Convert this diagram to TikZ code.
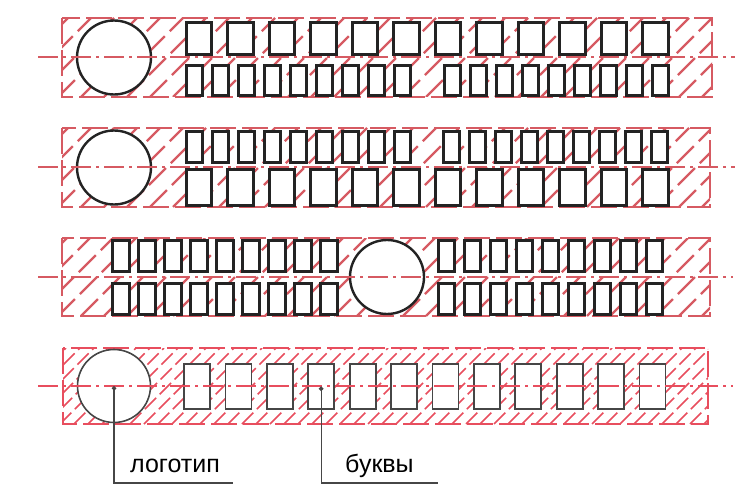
\documentclass[tikz,border=0pt]{standalone}
\usepackage{fontspec}
\setmainfont{Liberation Sans}
\usetikzlibrary{positioning, arrows.meta}
\definecolor{rojo}{RGB}{214,90,98}
\definecolor{rojovivo}{RGB}{232,78,94}
\definecolor{tinta}{RGB}{35,35,35}
\definecolor{gris}{RGB}{70,70,70}

\begin{document}
\begin{tikzpicture}[x=1pt, y=-1pt,
    borde/.style={draw=rojo, line width=2.4pt, dash pattern=on 26pt off 6pt},
    eje/.style={draw=rojo, line width=2.4pt, dash pattern=on 20pt off 5pt on 3pt off 5pt},
    rayado/.style={draw=rojo, line width=2.2pt, dash pattern=on 24pt off 7pt},
    logo/.style={circle, draw=tinta, fill=white, solid, line width=2.4pt, inner sep=0pt, minimum size=74pt},
    letra/.style={rectangle, draw=tinta, fill=white, solid, line width=2.8pt, line join=miter, inner sep=0pt},
    ancha/.style={letra, minimum width=25.5pt, minimum height=32.5pt},
    estrecha/.style={letra, minimum width=16.5pt, minimum height=30.5pt},
    guia/.style={draw=gris, line width=1.2pt, {Circle[length=4.5pt]}-},
    rotulo/.style={inner sep=0pt, anchor=base west, font=\fontsize{25}{30}\selectfont}]
  \useasboundingbox (0,0) rectangle (748,495);

  % franja 1
  \begin{scope}
    \clip (62,18) rectangle (712,97);
    \foreach \x in {-80,-57,...,712} \draw[rayado] (\x,97) -- ++(79,-79);
  \end{scope}
  \draw[borde] (62,18) rectangle (712,97);
  \node [logo] (l1) at (114,57.5) {};
  \foreach \i in {0,...,11} \node [ancha] (u1-\i) at ({199+41.5*\i},38.5) {};
  \foreach \i in {0,...,8} {
    \node [estrecha] (d1-\i) at ({194.5+26*\i},80.5) {};
    \node [estrecha] (e1-\i) at ({452.5+26*\i},80.5) {};
  }
  \draw[eje] (38,57) -- (735,57);

  % franja 2
  \begin{scope}
    \clip (62,128) rectangle (710,207);
    \foreach \x in {-80,-57,...,712} \draw[rayado] (\x,207) -- ++(79,-79);
  \end{scope}
  \draw[borde] (62,128) rectangle (710,207);
  \node [logo] (l2) at (114,167.5) {};
  \foreach \i in {0,...,8} {
    \node [estrecha] (u2-\i) at ({194.5+26*\i},147) {};
    \node [estrecha] (v2-\i) at ({451.5+26*\i},147) {};
  }
  \foreach \i in {0,...,11} \node [ancha, minimum height=36pt] (d2-\i) at ({199+41.5*\i},187.5) {};
  \draw[eje] (38,167) -- (735,167);

  % franja 3
  \begin{scope}
    \clip (62,238) rectangle (710,316);
    \foreach \x in {-80,-57,...,712} \draw[rayado] (\x,316) -- ++(78,-78);
  \end{scope}
  \draw[borde] (62,238) rectangle (710,316);
  \node [logo] (l3) at (387,277) {};
  \foreach \i in {0,...,8} {
    \node [estrecha, minimum width=17.5pt] (u3-\i) at ({121+26*\i},256) {};
    \node [estrecha, minimum width=17.5pt] (d3-\i) at ({121+26*\i},299) {};
    \node [estrecha] (v3-\i) at ({446.5+26*\i},256) {};
    \node [estrecha] (e3-\i) at ({446.5+26*\i},299) {};
  }
  \draw[eje] (38,277) -- (733,277);

  % franja 4
  \begin{scope}
    \clip (63,348) rectangle (708,424);
    \foreach \x in {-80,-66,...,708} \draw[rayado, draw=rojovivo, line width=1.5pt, dash pattern=on 16pt off 5pt] (\x,424) -- ++(76,-76);
  \end{scope}
  \draw[borde, draw=rojovivo, line width=1.8pt] (63,348) rectangle (708,424);
  \node [logo, draw=gris, line width=1.6pt, minimum size=73pt] (l4) at (114,386) {};
  \foreach \i in {0,...,11} \node [letra, draw=gris, line width=1.8pt, minimum width=26pt, minimum height=45pt] (b4-\i) at ({197+41.4*\i},386.5) {};
  \draw[eje, draw=rojovivo, line width=1.8pt] (38,386) -- (733,386);

  % rotulos
  \node [rotulo] (t1) at (130,472) {логотип};
  \node [rotulo] (t2) at (345,472) {буквы};
  \coordinate (f1) at (233,483);
  \coordinate (f2) at (438,483);
  \draw[guia] (l4.center) |- (f1);
  \draw[guia] (b4-3.center) |- (f2);
\end{tikzpicture}
\end{document}
